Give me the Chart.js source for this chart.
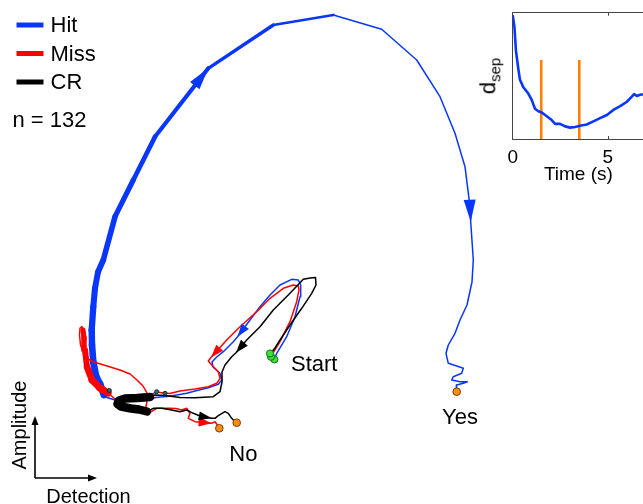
<!DOCTYPE html>
<html>
<head>
<meta charset="utf-8">
<script src="https://cdn.jsdelivr.net/npm/chart.js@4.4.1/dist/chart.umd.min.js"></script>
<style>
  html, body { margin: 0; padding: 0; background: #fff; overflow: hidden; }
  #wrap { position: relative; width: 643px; height: 504px; overflow: hidden; }
  #main { position: absolute; left: 0; top: 0; }
  #inset { position: absolute; left: 480px; top: 0; }
  #dsep {
    position: absolute; left: 490px; top: 76px;
    transform: translate(-50%, -50%) rotate(-90deg);
    font: 22px "Liberation Sans", Arial, sans-serif; line-height: 1;
    white-space: nowrap; color: #000;
  }
  #dsep sub { font-size: 15px; }
</style>
</head>
<body>
<div id="wrap">
  <canvas id="main" width="643" height="504"></canvas>
  <canvas id="inset" width="164" height="200"></canvas>
  <div id="dsep">d<sub>sep</sub></div>
</div>
<script>
// ---- Population trajectories in (Detection, Amplitude) state space, arbitrary units ----
const trialTypes = ['Hit', 'Miss', 'CR'];
const trialCount = 132;

// Hit: pre-stimulus drift, response window (thick), late period
const hitOnset = [[239.3,118.7],[241.7,124.7],[251.7,141.3],[260,161.3],[265,181.3],[265.7,193],[263.3,198],
  [256.7,198.7],[245,193],[235,183],[225,171.3],[215,158],[202.5,141.3],[198.3,136.3],[188.3,126.3],[181.7,121],
  [177,116],[178,111],[185,104.7],[186.7,98],[183.3,93.7],[173.3,90.3],[160,87],[151.7,84.7],[141.7,83],[132,81.5],
  [125,81],[110,79],[90,79],[80,78],[72,80.5],[69,83]];
const hitResponse = [[69,83],[65,94],[61,102],[58.3,116],[57,133],[56.7,148],[58.3,171.3],[60,189.7],[63,206],
  [68.3,218],[80,261.3],[98.3,298],[120,341.3],[173.3,409.7],[238.3,453],[298.3,463]];
const hitLate = [[298.3,463],[346.7,448.7],[381.7,418],[405,381.3],[420,344.7],[430,311.3],[435,271.3],[435.7,256.3],
  [438.3,218],[437,196],[432,173],[425,158],[420,144.7],[413.3,133],[411,124.7],[413.3,114.7],[421.7,112],[428.3,109.7],
  [426.7,104.7],[418.3,101.3],[416.7,98],[425,96.3],[432.3,96.3],[428.3,94.7],[421.7,93],[421,89],[421.7,86.3]];

// Miss
const missOnset = [[236,121.3],[238.3,125.3],[245,136.3],[255,156.3],[261.7,176.3],[264,188],[263.3,192],[258.3,193],
  [248.3,189.7],[235,179.7],[221.7,166.3],[205,151.3],[191.7,138],[176,120.5],[173.3,117],[176.7,113],[183.3,106.3],
  [185,99.7],[181.7,94.7],[173.3,91.3],[160,89],[145,87],[135,84.5],[128,85],[122,86],[115,83],[105,80],[90,79],
  [80,79],[73,85]];
const missResponse = [[73,85],[65,90],[57,98],[52,111],[50,128],[49,140],[48,148]];
const missLate = [[48,148],[47,151.5],[45,150],[44.5,143],[45.5,133],[49,124],[53,119],[59,116],[72,112],[85,108],
  [95,104],[102,98],[108,92],[112,85],[111.7,75],[110,66.3],[113.3,64.7],[121.7,69.7],[135,69.7],[141,69.5],
  [146.7,68],[151.7,69.7],[155,64.7],[153.3,59.7],[160,56.3],[176.7,54.7],[180,56.3],[182,53.5],[184.3,49.7]];

// Correct rejection
const crOnset = [[235,124.5],[236.7,126],[240,130],[245,138],[255,153],[266.7,169.7],[276.7,184.7],[281,193],
  [280.5,200.5],[275,200],[268.3,198.7],[255,184.7],[238.3,168],[225,151.3],[211.7,138],[201,125.3],[196.7,121.3],
  [190,113],[187,106],[187,96],[185,86.3],[178.3,81.3],[160,80.3],[145,80.5],[130,82.5],[120,83],[115,81]];
const crResponse = [[115,81],[102,80],[90,79.5],[84,77.5],[82.5,74],[86,71.5],[96,69.5],[104,68.5],[112,66.5]];
const crLate = [[112,66.5],[118.3,69.7],[126.7,69.7],[136.7,68],[145,66.3],[151.7,68],[158.3,64.7],[165,62],
  [176.7,59.7],[180,59.7],[183.3,62.3],[190,66.3],[193.3,64.7],[196.7,59.7],[200,56.3],[201.7,55.3]];

// Trial start, choice end points and stimulus-onset markers
const startPoints = [[239.3,118.7],[236,121.3],[235,124.5]];
const endPoints = [[421.7,86.3],[184.3,49.7],[201.7,55.3]];
const onsetPoints = [[74.3,87.5],[121.7,86.3],[130,84.7]];

// Choice labels
const choiceLabels = [['Start',256,113.5,'left'],['Yes',425,60,'center'],['No',208.3,23,'center']];

// ---- Inset: separation distance over time ----
const timeS = [0,0.09,0.17,0.30,0.38,0.56,0.82,1.0,1.17,1.35,1.53,1.79,2.05,2.23,2.49,2.75,3.02,3.28,3.54,
  3.89,4.24,4.59,4.95,5.29,5.65,6.0,6.26,6.38,6.52,6.7,6.86,7.0];
const dSep = [0.98,0.89,0.70,0.55,0.47,0.41,0.36,0.31,0.24,0.22,0.21,0.18,0.15,0.12,0.12,0.10,0.09,0.095,0.105,
  0.115,0.14,0.165,0.19,0.23,0.26,0.295,0.335,0.355,0.34,0.35,0.355,0.36];
const windowEdges = [1.5, 3.5];
const windowMarkTop = 0.625;

// ---- Styling ----
const FONT = '"Liberation Sans", Arial, Helvetica, sans-serif';
const BLUE = 'rgb(8,55,250)';
const RED = 'rgb(255,0,0)';
const BLACK = '#000000';
const ORANGE = 'rgb(255,128,0)';
const colorOf = { Hit: BLUE, Miss: RED, CR: BLACK };

const pts = a => a.map(([x, y]) => ({ x, y }));

// width that tapers along the arc length of a path
function taper(path, w0, w1) {
  const cum = [0];
  for (let i = 1; i < path.length; i++) {
    cum.push(cum[i - 1] + Math.hypot(path[i][0] - path[i - 1][0], path[i][1] - path[i - 1][1]));
  }
  const total = cum[cum.length - 1];
  return c => w0 + (w1 - w0) * ((cum[c.p0DataIndex] + cum[c.p1DataIndex]) / 2 / total);
}

function trace(path, color, width, order) {
  const ds = {
    data: pts(path), showLine: true, borderColor: color, backgroundColor: color,
    pointRadius: 0, borderCapStyle: 'round', borderJoinStyle: 'round', tension: 0, order
  };
  if (typeof width === 'function') { ds.borderWidth = 3; ds.segment = { borderWidth: width }; }
  else ds.borderWidth = width;
  return ds;
}

function dots(list, fill, stroke, r, order) {
  return { data: pts(list), showLine: false, pointRadius: r, pointBackgroundColor: fill,
    pointBorderColor: stroke, pointBorderWidth: 1, order };
}

const THIN = 1.5;
const datasets = [
  dots(startPoints, 'rgb(60,225,60)', 'rgb(20,110,20)', 3.6, 0),
  dots(endPoints, 'rgb(255,140,20)', 'rgb(120,60,0)', 3.8, 0),
  dots(onsetPoints, 'rgb(40,110,110)', 'rgb(15,40,40)', 2, 0),
  trace(crOnset, BLACK, THIN, 1),
  trace(crResponse, BLACK, 8.5, 1),
  trace(crLate, BLACK, THIN, 1),
  trace(missOnset, RED, THIN, 2),
  trace(missResponse, RED, taper(missResponse, 7.5, 5), 2),
  trace(missLate, RED, THIN, 2),
  trace(hitOnset, BLUE, THIN, 3),
  trace(hitResponse, BLUE, taper(hitResponse, 7, 2.5), 3),
  trace(hitLate, BLUE, THIN, 3)
];

// direction arrows: tip sits on a path vertex, pointing along the incoming segment
const arrowSize = { large: [22, 6], small: [13, 4.5] };
const arrowMarks = [
  [hitResponse, 13, BLUE, 'large'],
  [hitLate, 7, BLUE, 'large'],
  [hitOnset, 12, BLUE, 'small'],
  [missOnset, 13, RED, 'small'],
  [crOnset, 15, BLACK, 'small'],
  [missLate, 25, RED, 'small'],
  [crLate, 8, BLACK, 'small']
];

const arrowPlugin = {
  id: 'arrowheads',
  afterDatasetsDraw(chart) {
    const { ctx, scales: { x, y } } = chart;
    arrowMarks.forEach(([path, i, color, size]) => {
      const [len, half] = arrowSize[size];
      const tx = x.getPixelForValue(path[i][0]), ty = y.getPixelForValue(path[i][1]);
      const px = x.getPixelForValue(path[i - 1][0]), py = y.getPixelForValue(path[i - 1][1]);
      ctx.save();
      ctx.translate(tx, ty);
      ctx.rotate(Math.atan2(ty - py, tx - px));
      ctx.beginPath();
      ctx.moveTo(0, 0); ctx.lineTo(-len, -half); ctx.lineTo(-len, half); ctx.closePath();
      ctx.fillStyle = color; ctx.fill();
      ctx.restore();
    });
  }
};

function arrowLine(ctx, x0, y0, x1, y1) {
  const a = Math.atan2(y1 - y0, x1 - x0);
  ctx.beginPath(); ctx.moveTo(x0, y0); ctx.lineTo(x1 - 6 * Math.cos(a), y1 - 6 * Math.sin(a)); ctx.stroke();
  ctx.save(); ctx.translate(x1, y1); ctx.rotate(a);
  ctx.beginPath(); ctx.moveTo(0, 0); ctx.lineTo(-9, -3.5); ctx.lineTo(-9, 3.5); ctx.closePath(); ctx.fill();
  ctx.restore();
}

const annotationPlugin = {
  id: 'annotations',
  afterDraw(chart) {
    const { ctx, scales: { x, y } } = chart;
    ctx.save();
    ctx.fillStyle = '#000';
    ctx.textBaseline = 'middle';
    ctx.font = '22px ' + FONT;

    // legend
    trialTypes.forEach((name, i) => {
      const ly = 25 + 28.5 * i;
      ctx.strokeStyle = colorOf[name];
      ctx.lineWidth = 5;
      ctx.lineCap = 'butt';
      ctx.beginPath(); ctx.moveTo(16.5, ly); ctx.lineTo(43.5, ly); ctx.stroke();
      ctx.fillStyle = '#000';
      ctx.textAlign = 'left';
      ctx.fillText(name, 50.5, ly + 1.2);
    });
    ctx.fillText('n = ' + trialCount, 12.5, 121);

    // choice labels
    choiceLabels.forEach(([t, dx, dy, align]) => {
      ctx.textAlign = align;
      ctx.fillText(t, x.getPixelForValue(dx), y.getPixelForValue(dy));
    });

    // state-space axes indicator at the origin
    const ox = x.getPixelForValue(0), oy = y.getPixelForValue(0);
    ctx.strokeStyle = '#000'; ctx.fillStyle = '#000'; ctx.lineWidth = 1.6;
    arrowLine(ctx, ox, oy, ox, oy - 62);
    arrowLine(ctx, ox, oy, ox + 62, oy);
    ctx.font = '20px ' + FONT;
    ctx.textAlign = 'center';
    ctx.fillText('Detection', ox + 53.5, oy + 19);
    ctx.save();
    ctx.translate(ox - 15, oy - 53);
    ctx.rotate(-Math.PI / 2);
    ctx.fillText('Amplitude', 0, 0);
    ctx.restore();
    ctx.restore();
  }
};

new Chart(document.getElementById('main'), {
  type: 'scatter',
  data: { datasets },
  options: {
    responsive: false, animation: false, events: [],
    layout: { padding: 0, autoPadding: false },
    plugins: { legend: { display: false }, tooltip: { enabled: false } },
    scales: {
      x: { type: 'linear', display: false, min: -35, max: 608 },
      y: { type: 'linear', display: false, min: -26, max: 478 }
    }
  },
  plugins: [arrowPlugin, annotationPlugin]
});

// inward tick marks on the inset box
const inwardTicks = {
  id: 'inwardTicks',
  afterDraw(chart) {
    const { ctx, chartArea: a, scales: { x } } = chart;
    ctx.save();
    ctx.strokeStyle = '#444'; ctx.lineWidth = 1;
    x.ticks.forEach(t => {
      const px = Math.round(x.getPixelForValue(t.value)) + 0.5;
      if (px <= a.left + 1) return;
      ctx.beginPath();
      ctx.moveTo(px, a.bottom); ctx.lineTo(px, a.bottom - 3);
      ctx.moveTo(px, a.top); ctx.lineTo(px, a.top + 3);
      ctx.stroke();
    });
    ctx.restore();
  }
};

const axisLine = { display: true, color: '#444', width: 1 };
new Chart(document.getElementById('inset'), {
  type: 'scatter',
  data: {
    datasets: [
      { data: timeS.map((t, i) => ({ x: t, y: dSep[i] })), showLine: true, borderColor: BLUE,
        borderWidth: 2.6, pointRadius: 0, tension: 0, borderJoinStyle: 'round', order: 0 },
      ...windowEdges.map(t => ({ data: [{ x: t, y: 0 }, { x: t, y: windowMarkTop }], showLine: true,
        borderColor: ORANGE, borderWidth: 2.6, pointRadius: 0, order: 1 }))
    ]
  },
  options: {
    responsive: false, animation: false, events: [],
    layout: { padding: { top: 12.7, left: 0, right: 0, bottom: 0 }, autoPadding: false },
    plugins: { legend: { display: false }, tooltip: { enabled: false } },
    scales: {
      x: {
        type: 'linear', position: 'bottom', min: 0, max: 6.9,
        grid: { display: false, drawTicks: false }, border: axisLine,
        ticks: { stepSize: 5, includeBounds: false, color: '#000', padding: 7, maxRotation: 0,
          font: { family: FONT, size: 19 } },
        title: { display: true, text: 'Time (s)', color: '#000', font: { family: FONT, size: 19 },
          padding: { top: 0, bottom: 13.5 } },
        afterFit: s => { s.height = 61; }
      },
      xTop: {
        axis: 'x', type: 'linear', position: 'top', min: 0, max: 6.9,
        grid: { display: false, drawTicks: false }, border: axisLine, ticks: { display: false },
        afterFit: s => { s.height = 0; }
      },
      y: {
        type: 'linear', min: 0, max: 1,
        grid: { display: false, drawTicks: false }, border: axisLine, ticks: { display: false },
        afterFit: s => { s.width = 32.7; }
      }
    }
  },
  plugins: [inwardTicks]
});
</script>
</body>
</html>
